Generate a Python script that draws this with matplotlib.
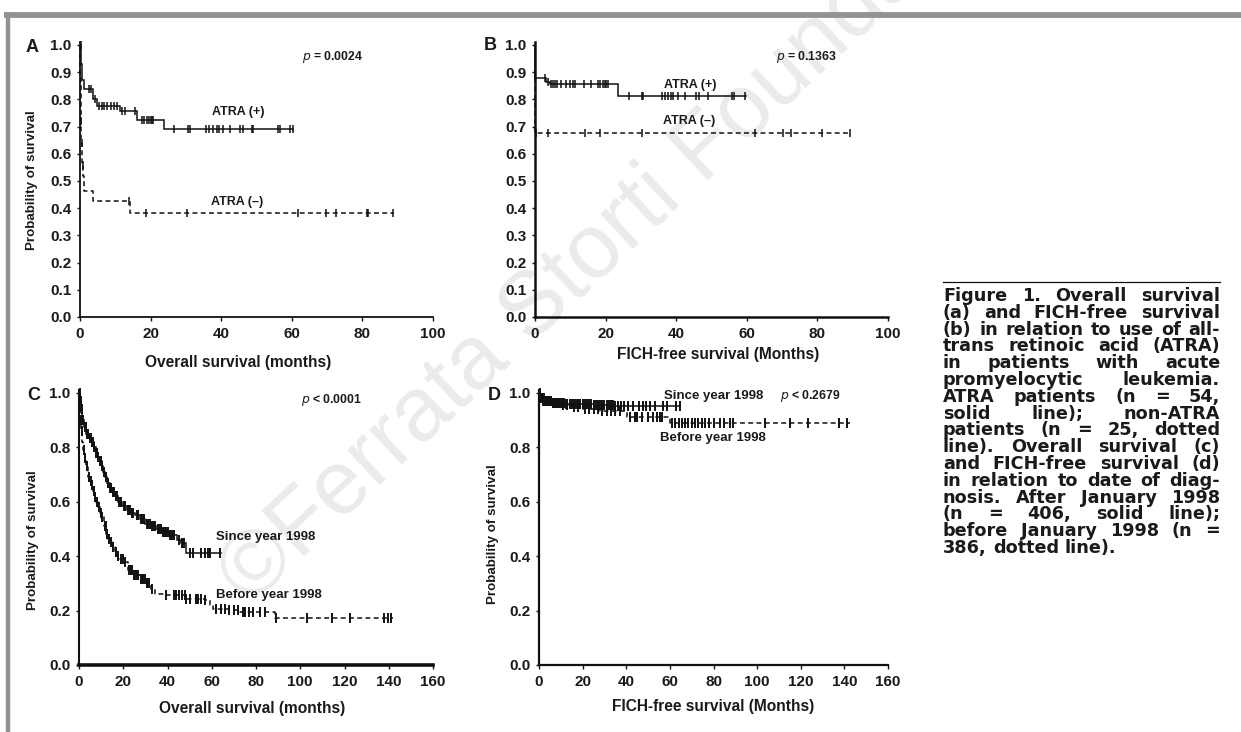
import numpy as np
import matplotlib
matplotlib.use("Agg")
import matplotlib.pyplot as plt

W, H = 1241, 732

# ---- panel A: overall survival by ATRA use ----
a_pos_t = [0, 0.3, 0.6, 1.0, 3.6, 4.9, 11.3, 16.2, 23.8]
a_pos_s = [1.0, 0.93, 0.87, 0.837, 0.80, 0.776, 0.758, 0.725, 0.693]
a_pos_end = 60.3
a_pos_cens = [0.2, 2.6, 3.1, 4.3, 5.3, 6.1, 6.8, 7.7, 8.7, 9.6, 10.4, 11.8, 12.7, 15.6,
              17.5, 18.2, 19.0, 19.6, 20.0, 20.5, 20.8, 26.6, 30.7, 31.1, 35.8, 36.6,
              37.7, 38.7, 39.4, 40.6, 42.6, 45.3, 46.2, 48.8, 49.1, 56.1, 56.6, 59.4, 60.3]

a_neg_t = [0, 0.1, 0.2, 0.3, 0.4, 0.6, 0.7, 0.9, 1.1, 3.6, 14.3]
a_neg_s = [1.0, 0.88, 0.80, 0.72, 0.64, 0.60, 0.56, 0.52, 0.465, 0.427, 0.381]
a_neg_end = 88.9
a_neg_cens = [0.35, 0.5, 0.8, 14.0, 18.8, 30.2, 61.8, 69.6, 72.4, 81.2, 81.7, 88.7]

# ---- panel B: FICH-free survival by ATRA use ----
b_pos_t = [0, 0.1, 3.2, 4.2, 23.5]
b_pos_s = [1.0, 0.877, 0.865, 0.855, 0.811]
b_pos_end = 59.8
b_pos_cens = [2.9, 3.6, 4.6, 5.1, 5.6, 6.1, 7.4, 8.8, 9.8, 10.9, 11.4, 14.0, 15.9, 17.8,
              18.5, 19.2, 19.7, 20.2, 20.6, 26.7, 30.3, 30.7, 36.0, 36.7, 37.6, 38.6,
              39.2, 40.5, 42.4, 45.7, 46.4, 48.9, 55.9, 56.5, 59.6]

b_neg_t = [0, 0.1]
b_neg_s = [1.0, 0.677]
b_neg_end = 89.5
b_neg_cens = [0.3, 3.6, 14.3, 18.5, 30.3, 62.2, 70.2, 72.6, 81.4, 89.2]

# ---- panel C: overall survival by date of diagnosis ----
c_since_t = [0, 0.5, 1.0, 1.5, 2.2, 3.3, 4.5, 5.5, 6.6, 7.5, 8.4, 9.3, 10.2, 11.0, 11.8,
             12.7, 13.8, 15.0, 16.3, 17.6, 19.5, 21.5, 23.5, 25.2, 27.5, 30.0, 32.5,
             34.9, 37.5, 40.5, 44.5, 46.0, 48.2]
c_since_s = [1.0, 0.97, 0.94, 0.90, 0.875, 0.85, 0.835, 0.82, 0.80, 0.78, 0.765, 0.75,
             0.73, 0.71, 0.69, 0.67, 0.65, 0.635, 0.62, 0.60, 0.585, 0.57, 0.56, 0.55,
             0.535, 0.52, 0.51, 0.50, 0.49, 0.478, 0.46, 0.45, 0.41]
c_since_end = 64.0
c_since_cens = [0.3, 0.6, 0.9, 1.2, 1.6, 2.0, 2.5, 3.0, 3.6, 4.0, 4.8, 5.2, 5.9, 6.3, 7.0,
                7.8, 8.1, 8.8, 9.6, 10.0, 10.6, 11.4, 12.0, 12.4, 13.2, 14.0, 14.6, 15.4,
                16.0, 16.8, 17.2, 18.0, 18.8, 19.2, 20.2, 20.8, 22.0, 22.6, 23.0, 24.0,
                24.6, 26.0, 26.8, 28.0, 28.8, 29.6, 30.6, 31.4, 32.0, 33.0, 33.8, 34.4,
                35.6, 36.2, 37.0, 37.8, 38.6, 39.2, 40.0, 41.0, 42.0, 43.0, 45.0, 46.6,
                47.4, 50.0, 51.5, 55.3, 57.1, 58.3, 59.3, 63.6]

c_before_t = [0, 0.3, 0.6, 1.0, 1.5, 2.0, 2.6, 3.3, 4.1, 4.8, 5.6, 6.3, 7.1, 7.8, 8.6,
              9.3, 10.1, 11.2, 12.3, 13.1, 13.9, 15.0, 16.1, 17.2, 18.4, 20.6, 22.1,
              24.4, 27.4, 30.4, 32.4, 34.2, 39.5, 48.5, 56.8, 59.0, 60.5, 68.0, 72.6, 88.4]
c_before_s = [1.0, 0.95, 0.90, 0.86, 0.82, 0.79, 0.76, 0.73, 0.69, 0.675, 0.66, 0.64,
              0.616, 0.60, 0.58, 0.56, 0.543, 0.51, 0.482, 0.465, 0.451, 0.432, 0.415,
              0.40, 0.39, 0.378, 0.348, 0.33, 0.317, 0.30, 0.28, 0.262, 0.256, 0.244,
              0.238, 0.22, 0.207, 0.201, 0.195, 0.171]
c_before_end = 141.9
c_before_cens = [0.4, 0.8, 1.3, 2.2, 2.9, 3.8, 4.4, 5.2, 6.0, 6.7, 7.4, 8.2, 9.0, 9.8,
                 10.6, 11.6, 12.0, 12.8, 13.5, 14.4, 15.3, 16.6, 17.6, 19.0, 20.0, 21.0,
                 22.6, 23.4, 24.0, 25.0, 25.8, 26.8, 27.8, 28.4, 29.0, 29.8, 30.8, 31.6,
                 33.0, 39.5, 42.8, 44.0, 45.2, 46.5, 47.7, 48.5, 50.3, 53.0, 54.0, 55.3,
                 56.8, 62.0, 64.0, 66.0, 68.0, 70.0, 72.0, 74.0, 75.0, 77.0, 78.6, 81.6,
                 83.9, 89.2, 103.0, 114.5, 122.6, 138.0, 139.6, 141.0]

# ---- panel D: FICH-free survival by date of diagnosis ----
d_since_t = [0, 0.5, 2.0, 6.0, 12.0, 25.0, 35.0]
d_since_s = [1.0, 0.98, 0.97, 0.965, 0.96, 0.957, 0.953]
d_since_end = 64.6
d_since_cens = [0.3, 0.8, 1.4, 2.0, 2.6, 3.2, 3.8, 4.4, 5.0, 5.6, 6.2, 7.0, 7.6, 8.4, 9.0,
                9.8, 10.6, 11.4, 12.2, 13.0, 14.0, 15.0, 16.0, 17.0, 18.0, 19.0, 20.0,
                21.0, 22.0, 23.0, 24.0, 25.0, 26.0, 27.0, 28.0, 29.0, 30.0, 31.0, 32.0,
                33.0, 34.0, 35.0, 36.0, 37.5, 39.0, 41.0, 43.0, 46.0, 47.6, 49.0, 50.8,
                53.0, 57.0, 58.5, 62.7, 64.6]

d_before_t = [0, 0.5, 3.0, 6.0, 10.0, 15.0, 20.0, 28.0, 40.2, 60.0]
d_before_s = [1.0, 0.98, 0.97, 0.963, 0.955, 0.947, 0.94, 0.932, 0.913, 0.89]
d_before_end = 142.4
d_before_cens = [0.6, 1.5, 2.5, 4.0, 5.5, 7.0, 8.5, 11.0, 13.0, 16.0, 18.0, 21.0, 23.0,
                 25.0, 27.0, 29.0, 31.0, 33.0, 35.0, 37.0, 41.7, 44.0, 44.7, 47.0, 50.0,
                 52.4, 54.0, 55.4, 56.6, 61.0, 62.5, 64.0, 65.5, 67.0, 68.5, 70.0, 71.5,
                 73.0, 74.5, 76.0, 78.0, 80.0, 83.0, 85.0, 87.5, 89.0, 103.5, 115.0,
                 123.4, 137.6, 141.0]

caption_lines = [
    "Figure 1. Overall survival",
    "(a) and FICH-free survival",
    "(b) in relation to use of all-",
    "trans retinoic acid (ATRA)",
    "in patients with acute",
    "promyelocytic leukemia.",
    "ATRA patients (n = 54,",
    "solid line); non-ATRA",
    "patients (n = 25, dotted",
    "line). Overall survival (c)",
    "and FICH-free survival (d)",
    "in relation to date of diag-",
    "nosis. After January 1998",
    "(n = 406, solid line);",
    "before January 1998 (n =",
    "386, dotted line).",
]

FONT = "Liberation Sans"


def px(x, y):
    return x / W, 1 - y / H


def place(ax, left, right, y0, y1, xmax, ytop):
    unit = y0 - y1
    top = y0 - ytop * unit
    ax.set_position([left / W, 1 - y0 / H, (right - left) / W, (y0 - top) / H])
    ax.set_xlim(0, xmax)
    ax.set_ylim(0, ytop)


def km(ax, t, s, end, cens, dashed, ms=6, mew=1.1):
    tt = list(t) + [end]
    ss = list(s) + [s[-1]]
    ls = (0, (3.2, 2.2)) if dashed else "-"
    ax.step(tt, ss, where="post", color="#111111", lw=1.1, ls=ls,
            solid_joinstyle="miter", clip_on=False)
    idx = np.searchsorted(np.array(t), np.array(cens), side="right") - 1
    cy = np.array(s)[idx]
    ax.plot(cens, cy, ls="none", marker="|", ms=ms, mew=mew, color="#111111",
            clip_on=False)


def style(ax, yticks, yfmt, xticks, lw):
    for side in ("top", "right"):
        ax.spines[side].set_visible(False)
    for side in ("left", "bottom"):
        ax.spines[side].set_linewidth(lw)
        ax.spines[side].set_color("#111111")
    ax.patch.set_alpha(0)
    ax.set_yticks(yticks)
    ax.set_yticklabels([yfmt.format(v) for v in yticks])
    ax.set_xticks(xticks)
    ax.set_xticklabels([str(v) for v in xticks])
    ax.tick_params(axis="y", direction="out", length=2.5, width=1, pad=3.5,
                   colors="#111111")
    ax.tick_params(axis="x", direction="out", length=3, width=1, pad=4,
                   colors="#111111")
    for lab in ax.get_xticklabels() + ax.get_yticklabels():
        lab.set_fontfamily(FONT)
        lab.set_fontweight("bold")
        lab.set_fontsize(11)
        lab.set_color("#1a1a1a")


fig = plt.figure(figsize=(W / 100, H / 100), dpi=100)
fig.patch.set_facecolor("white")

# watermark
fig.text(*px(250, 606), "\u00a9Ferrata Storti Foundation", fontsize=65,
         family=FONT, color="#ebebeb", rotation=43, rotation_mode="anchor",
         ha="left", va="baseline", zorder=-5)

# frame
fig.add_artist(plt.Line2D([4 / W, 1], [1 - 14.5 / H, 1 - 14.5 / H],
                          color="#929292", lw=4.2, solid_capstyle="butt"))
fig.add_artist(plt.Line2D([7.5 / W, 7.5 / W], [1 - 12 / H, 0],
                          color="#929292", lw=3.2, solid_capstyle="butt"))

tk01 = [round(0.1 * i, 1) for i in range(11)]
tk02 = [0.0, 0.2, 0.4, 0.6, 0.8, 1.0]

axA = fig.add_axes([0, 0, 1, 1])
place(axA, 80, 433, 317, 45, 100, 1.01)
style(axA, tk01, "{:.1f}", list(range(0, 101, 20)), 1.3)
km(axA, a_pos_t, a_pos_s, a_pos_end, a_pos_cens, False)
km(axA, a_neg_t, a_neg_s, a_neg_end, a_neg_cens, True)

axB = fig.add_axes([0, 0, 1, 1])
place(axB, 535, 888, 317, 45, 100, 1.01)
style(axB, tk01, "{:.1f}", list(range(0, 101, 20)), 1.8)
km(axB, b_pos_t, b_pos_s, b_pos_end, b_pos_cens, False)
km(axB, b_neg_t, b_neg_s, b_neg_end, b_neg_cens, True)

axC = fig.add_axes([0, 0, 1, 1])
place(axC, 79, 433, 665, 393, 160, 1.01)
style(axC, tk02, "{:.1f}", list(range(0, 161, 20)), 1.5)
axC.spines["bottom"].set_linewidth(2.6)
km(axC, c_since_t, c_since_s, c_since_end, c_since_cens, False, ms=7, mew=1.4)
km(axC, c_before_t, c_before_s, c_before_end, c_before_cens, True, ms=7, mew=1.4)

axD = fig.add_axes([0, 0, 1, 1])
place(axD, 539, 888, 665, 393, 160, 1.01)
style(axD, tk02, "{:.1f}", list(range(0, 161, 20)), 1.6)
km(axD, d_since_t, d_since_s, d_since_end, d_since_cens, False, ms=7, mew=1.4)
km(axD, d_before_t, d_before_s, d_before_end, d_before_cens, True, ms=7, mew=1.4)

# annotations inside the panels
note = dict(family=FONT, fontweight="bold", color="#1a1a1a", va="center", ha="left")
for ax, x, y, s in [(axA, 63, 0.955, r"$\bf{\it{p}}$ = 0.0024"),
                    (axB, 68.3, 0.955, r"$\bf{\it{p}}$ = 0.1363"),
                    (axC, 100.5, 0.976, r"$\bf{\it{p}}$ < 0.0001"),
                    (axD, 110.4, 0.99, r"$\bf{\it{p}}$ < 0.2679")]:
    ax.text(x, y, s, fontsize=8.8, **note)
axA.text(37.3, 0.754, "ATRA (+)", fontsize=9, **note)
axA.text(37.1, 0.422, "ATRA (\u2013)", fontsize=9, **note)
axB.text(36.5, 0.852, "ATRA (+)", fontsize=9, **note)
axB.text(36.4, 0.72, "ATRA (\u2013)", fontsize=9, **note)
axC.text(61.7, 0.47, "Since year 1998", fontsize=9.5, **note)
axC.text(61.7, 0.256, "Before year 1998", fontsize=9.5, **note)
axD.text(57.4, 0.99, "Since year 1998", fontsize=9.5, **note)
axD.text(55.4, 0.835, "Before year 1998", fontsize=9.5, **note)

# panel letters and axis titles
lab = dict(family=FONT, fontweight="bold", color="#1a1a1a", ha="center", va="center")
for x, y, s in [(32, 48, "A"), (490, 46, "B"), (34, 395, "C"), (494, 395, "D")]:
    fig.text(*px(x, y), s, fontsize=13, **lab)
fig.text(*px(238, 362), "Overall survival (months)", fontsize=11.2, **lab)
fig.text(*px(718, 355), "FICH-free survival (Months)", fontsize=11.2, **lab)
fig.text(*px(252, 708), "Overall survival (months)", fontsize=11.2, **lab)
fig.text(*px(713, 707), "FICH-free survival (Months)", fontsize=11.2, **lab)
fig.text(*px(32, 180), "Probability of survival", fontsize=9.6, rotation=90, **lab)
fig.text(*px(33, 540), "Probability of survival", fontsize=9.6, rotation=90, **lab)
fig.text(*px(493, 534), "Probability of survival", fontsize=9.6, rotation=90, **lab)

# caption, justified
cap_left, cap_right = 943, 1220
fig.add_artist(plt.Line2D([cap_left / W, cap_right / W], [1 - 282 / H, 1 - 282 / H],
                          color="#111111", lw=0.9))
renderer = fig.canvas.get_renderer()
cap = dict(family="DejaVu Sans", fontweight="bold", fontsize=12.7, color="#1a1a1a",
           ha="left", va="center")


def width_of(s):
    t = fig.text(0, 0, s, **cap)
    w = t.get_window_extent(renderer).width
    t.remove()
    return w


space_w = width_of("x x") - width_of("xx")
line_gap = 16.8
for i, line in enumerate(caption_lines):
    words = line.split(" ")
    y = 296 + i * line_gap
    texts = [fig.text(0, 0, w, **cap) for w in words]
    widths = [t.get_window_extent(renderer).width for t in texts]
    if i < len(caption_lines) - 1 and len(words) > 1:
        gap = (cap_right - cap_left - sum(widths)) / (len(words) - 1)
    else:
        gap = space_w
    x = cap_left
    for t, w in zip(texts, widths):
        t.set_position(px(x, y))
        x += w + gap

fig.savefig("out.png", dpi=100)
